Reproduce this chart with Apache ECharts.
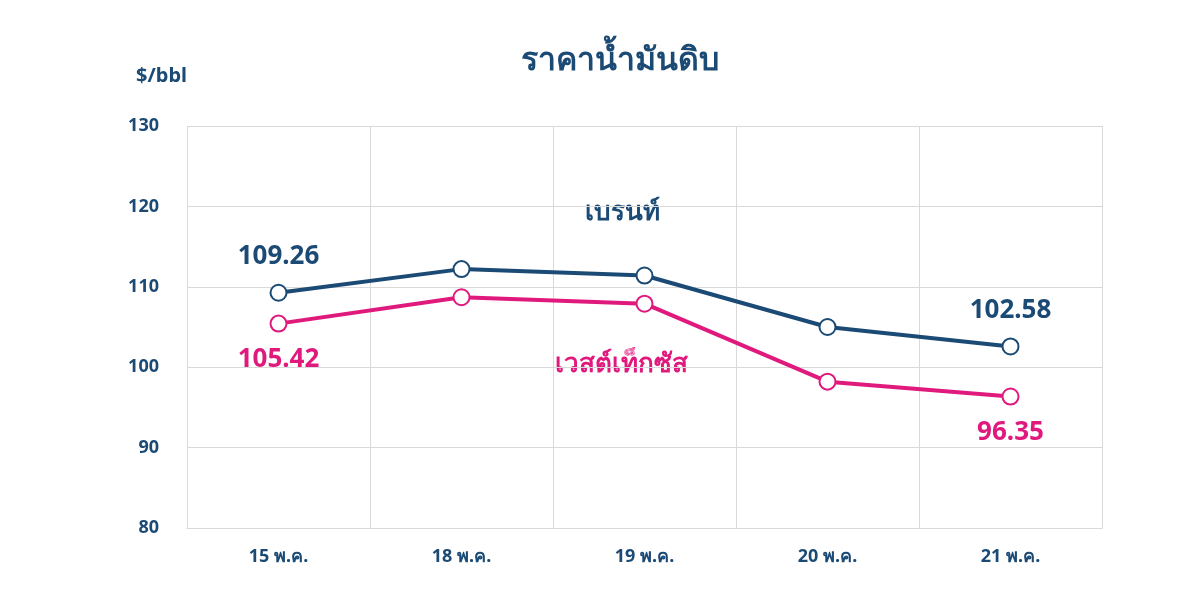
<!DOCTYPE html>
<html><head><meta charset="utf-8">
<script src="https://cdn.jsdelivr.net/npm/echarts@6/dist/echarts.min.js"></script>
<style>html,body{margin:0;padding:0;background:#fff}#c{width:1200px;height:601px}</style>
</head><body><div id="c"></div>
<script>
const categories = ['15 พ.ค.','18 พ.ค.','19 พ.ค.','20 พ.ค.','21 พ.ค.'];
const brent = [109.26, 112.2, 111.4, 105.0, 102.58];
const wti = [105.42, 108.7, 107.9, 98.2, 96.35];
const navy = '#1b4a75', pink = '#e0197d';
const font = '"Noto Sans", sans-serif';
function edgeLabel(color, pos){
  return {show:true, position:pos, distance:14, color:color, fontSize:26, fontWeight:'bold', fontFamily:font,
    formatter:p => (p.dataIndex===0||p.dataIndex===4) ? p.value.toFixed(2) : ''};
}
const chart = echarts.init(document.getElementById('c'));
chart.setOption({
  animation:false,
  title:{text:'ราคาน้ำมันดิบ', left:615, top:40, textAlign:'center',
    textStyle:{color:navy, fontSize:32, fontWeight:'bold', fontFamily:font}},
  grid:{left:187, right:98, top:126, bottom:73},
  xAxis:{type:'category', data:categories, boundaryGap:true,
    axisLine:{lineStyle:{color:'#d9d9d9'}}, axisTick:{show:false},
    splitLine:{show:true, lineStyle:{color:'#d9d9d9'}},
    axisLabel:{color:navy, fontSize:18, fontWeight:'bold', fontFamily:font, margin:20}},
  yAxis:{type:'value', min:80, max:130, interval:10,
    name:'$/bbl', nameLocation:'end', nameGap:40, nameTextStyle:{color:navy, fontSize:20, fontWeight:'bold', fontFamily:font, align:'right', padding:[0,0,0,0]},
    axisLine:{show:false}, axisTick:{show:false},
    splitLine:{lineStyle:{color:'#d9d9d9'}},
    axisLabel:{color:navy, fontSize:18, fontWeight:'bold', fontFamily:font, margin:28}},
  series:[
    {name:'เบรนท์', type:'line', data:brent, symbol:'circle', symbolSize:16,
      lineStyle:{color:navy, width:4}, itemStyle:{color:'#fff', borderColor:navy, borderWidth:2},
      label:edgeLabel(navy,'top')},
    {name:'เวสต์เท็กซัส', type:'line', data:wti, symbol:'circle', symbolSize:16,
      lineStyle:{color:pink, width:4}, itemStyle:{color:'#fff', borderColor:pink, borderWidth:2},
      label:edgeLabel(pink,'bottom')}
  ],
  graphic:[
    {type:'text', left:585, top:200, style:{text:'เบรนท์', fill:navy, fontSize:26, fontWeight:'bold', fontFamily:font}},
    {type:'text', left:555, top:352, style:{text:'เวสต์เท็กซัส', fill:pink, fontSize:26, fontWeight:'bold', fontFamily:font}}
  ]
});
</script></body></html>
